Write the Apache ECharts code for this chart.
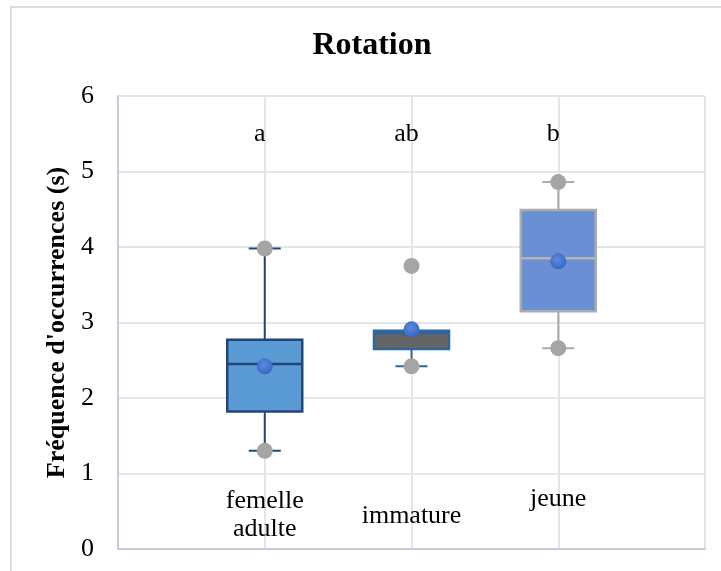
<!DOCTYPE html>
<html>
<head>
<meta charset="utf-8">
<title>Rotation</title>
<script src="https://cdn.jsdelivr.net/npm/echarts@6/dist/echarts.min.js"></script>
<style>
  html, body { margin: 0; padding: 0; background: #fff; }
  #chart { width: 721px; height: 571px; }
</style>
</head>
<body>
<div id="chart"></div>
<script>
  // valeurs
  var categories = ['femelle adulte', 'immature', 'jeune'];
  var whiskerLow = [1.30, 2.42, 2.66];
  var quart1 = [1.82, 2.65, 3.15];
  var medians = [2.45, 2.86, 3.85];
  var quart3 = [2.77, 2.89, 4.49];
  var whiskerHigh = [3.98, 2.89, 4.86];
  var means = [2.42, 2.91, 3.81];
  var greyPoints = [[3.98, 1.30], [3.75, 2.42], [4.86, 2.66]];
  var letters = ['a', 'ab', 'b'];

  var serif = "'Liberation Serif', 'Times New Roman', serif";
  var letterLevel = 5.5;
  var boxStyles = [
    { fill: '#5B9BD5', stroke: '#22467A', median: '#22467A' },
    { fill: '#646464', stroke: '#2E679E', median: '#2E679E' },
    { fill: '#6A8FD5', stroke: '#ABABAB', median: '#B4B4B4' }
  ];

  var xData = [''].concat(categories).concat(['']);
  var boxData = categories.map(function (c, i) {
    return [i + 1, whiskerLow[i], quart1[i], medians[i], quart3[i], whiskerHigh[i]];
  });
  var greyData = [];
  greyPoints.forEach(function (pts, i) {
    pts.forEach(function (v) { greyData.push([i + 1, v]); });
  });
  var meanData = means.map(function (v, i) { return [i + 1, v]; });
  var letterData = letters.map(function (l, i) { return [i + 1, letterLevel]; });

  function renderBox(params, api) {
    var i = params.dataIndex;
    var x = api.value(0);
    var lo = api.coord([x, api.value(1)]);
    var b1 = api.coord([x, api.value(2)]);
    var md = api.coord([x, api.value(3)]);
    var b3 = api.coord([x, api.value(4)]);
    var hi = api.coord([x, api.value(5)]);
    var half = 37.5, cap = 16;
    var st = boxStyles[i];
    var ls = { stroke: st.stroke, lineWidth: 2 };
    var children = [];
    if (hi[1] < b3[1] - 0.5) {
      children.push({ type: 'line', shape: { x1: hi[0], y1: hi[1], x2: hi[0], y2: b3[1] }, style: ls });
      children.push({ type: 'line', shape: { x1: hi[0] - cap, y1: hi[1], x2: hi[0] + cap, y2: hi[1] }, style: ls });
    }
    if (lo[1] > b1[1] + 0.5) {
      children.push({ type: 'line', shape: { x1: lo[0], y1: b1[1], x2: lo[0], y2: lo[1] }, style: ls });
      children.push({ type: 'line', shape: { x1: lo[0] - cap, y1: lo[1], x2: lo[0] + cap, y2: lo[1] }, style: ls });
    }
    children.push({
      type: 'rect',
      shape: { x: b1[0] - half, y: b3[1], width: half * 2, height: b1[1] - b3[1] },
      style: { fill: st.fill, stroke: st.stroke, lineWidth: 2.5 }
    });
    children.push({
      type: 'line',
      shape: { x1: md[0] - half, y1: md[1], x2: md[0] + half, y2: md[1] },
      style: { stroke: st.median, lineWidth: 2.5 }
    });
    return { type: 'group', children: children };
  }

  var myChart = echarts.init(document.getElementById('chart'));
  var option = {
    animation: false,
    backgroundColor: '#fff',
    textStyle: { fontFamily: serif },
    title: {
      text: 'Rotation',
      left: 372,
      top: 30,
      padding: 0,
      textAlign: 'center',
      textStyle: { fontFamily: serif, fontSize: 32, fontWeight: 'bold', color: '#000' }
    },
    graphic: [{
      type: 'rect',
      shape: { x: 11, y: 7, width: 760, height: 620 },
      style: { fill: 'none', stroke: '#D9DEE7', lineWidth: 2 },
      silent: true
    }],
    grid: { left: 118, right: 16, top: 96, bottom: 22 },
    xAxis: {
      type: 'category',
      data: xData,
      boundaryGap: false,
      axisTick: { show: false },
      axisLine: { lineStyle: { color: '#C3CCDC', width: 2 } },
      splitLine: { show: true, lineStyle: { color: '#E2E5EB', width: 2 } },
      axisLabel: {
        interval: 0,
        margin: -62,
        verticalAlign: 'top',
        fontFamily: serif,
        fontSize: 26,
        color: '#000',
        formatter: function (v, idx) {
          if (!v) return '';
          return '{c' + idx + '|' + v.replace(' ', '\n') + '}';
        },
        rich: {
          c1: { lineHeight: 28, fontFamily: serif, fontSize: 26, color: '#000' },
          c2: { lineHeight: 58, fontFamily: serif, fontSize: 26, color: '#000' },
          c3: { lineHeight: 25, fontFamily: serif, fontSize: 26, color: '#000' }
        }
      }
    },
    yAxis: {
      type: 'value',
      min: 0,
      max: 6,
      interval: 1,
      name: "Fréquence d'occurrences (s)",
      nameLocation: 'middle',
      nameGap: 48,
      nameTextStyle: { fontFamily: serif, fontSize: 26, fontWeight: 'bold', color: '#000' },
      axisLine: { show: true, lineStyle: { color: '#C3CCDC', width: 2 } },
      axisTick: { show: false },
      axisLabel: { margin: 24, fontFamily: serif, fontSize: 26, color: '#000' },
      splitLine: { lineStyle: { color: '#E2E5EB', width: 2 } }
    },
    series: [
      {
        type: 'custom',
        name: 'boites',
        renderItem: renderBox,
        encode: { x: 0, y: [1, 2, 3, 4, 5] },
        data: boxData,
        z: 2
      },
      {
        type: 'scatter',
        name: 'points',
        data: greyData,
        symbolSize: 16,
        itemStyle: { color: '#A5A5A5', opacity: 1 },
        z: 3
      },
      {
        type: 'scatter',
        name: 'moyenne',
        data: meanData,
        symbolSize: 16,
        itemStyle: {
          opacity: 1,
          color: new echarts.graphic.RadialGradient(0.45, 0.4, 0.6, [
            { offset: 0, color: '#5C8BDD' },
            { offset: 1, color: '#3A66C4' }
          ])
        },
        z: 4
      },
      {
        type: 'scatter',
        name: 'lettres',
        data: letterData,
        symbolSize: 1,
        silent: true,
        itemStyle: { color: 'rgba(0,0,0,0)', opacity: 1 },
        label: {
          show: true,
          position: 'inside',
          offset: [-5, 0],
          fontFamily: serif,
          fontSize: 26,
          color: '#000',
          formatter: function (p) { return letters[p.dataIndex]; }
        },
        z: 5
      }
    ]
  };
  myChart.setOption(option);
</script>
</body>
</html>
